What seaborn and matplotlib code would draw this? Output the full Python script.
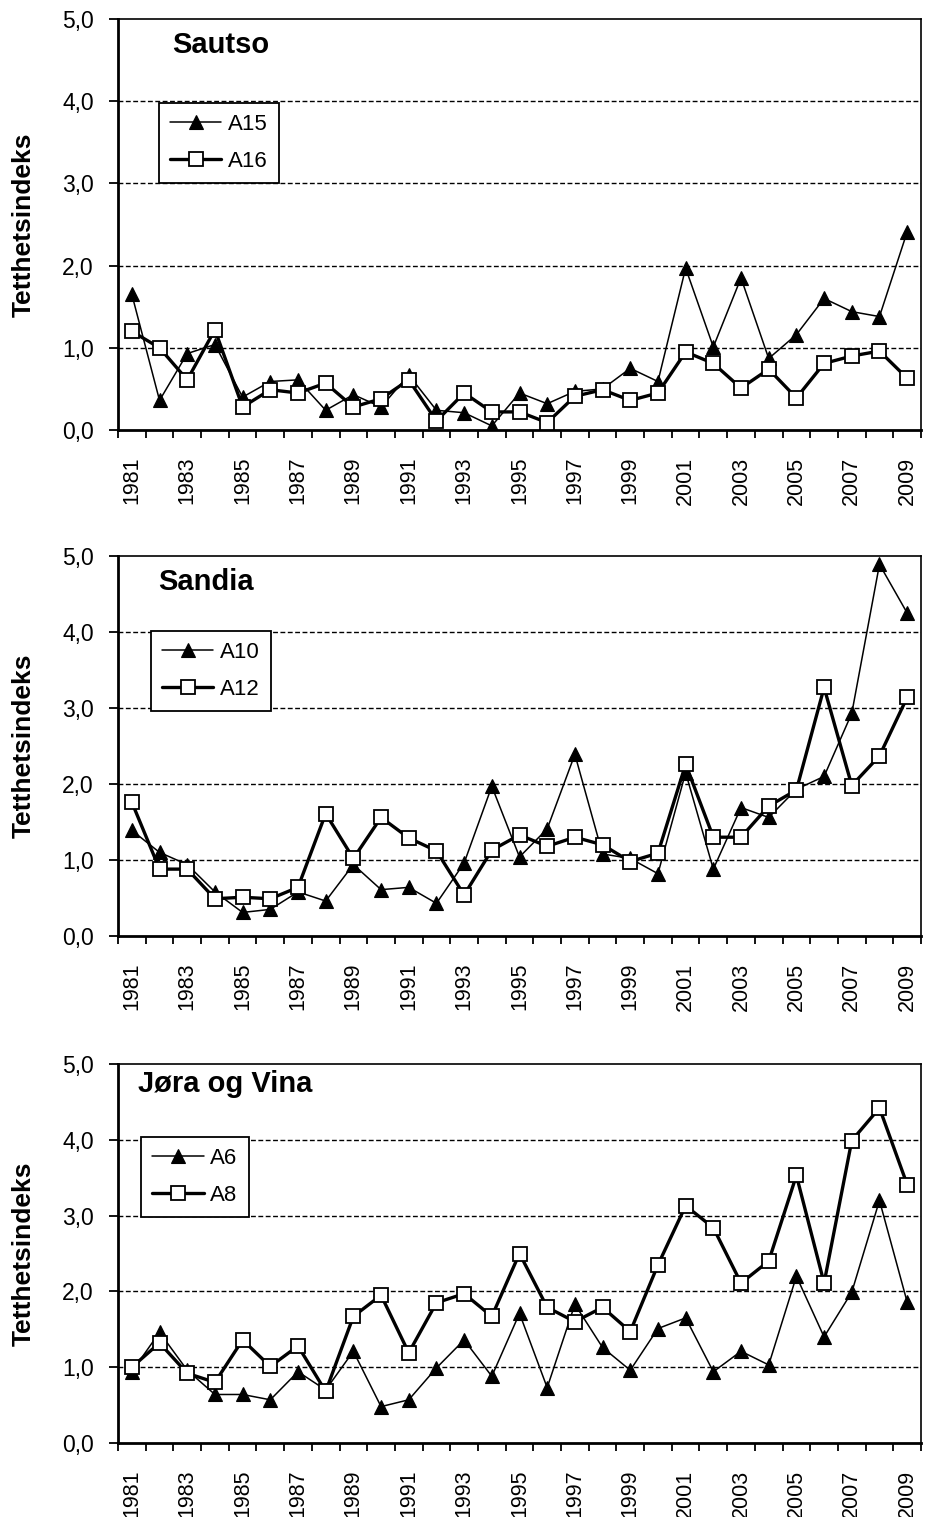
import numpy as np
import pandas as pd
import matplotlib
matplotlib.use("Agg")
import matplotlib.pyplot as plt
import seaborn as sns

years = list(range(1981, 2010))

# Sautso
a15 = [1.65, 0.36, 0.93, 1.04, 0.40, 0.59, 0.61, 0.24, 0.43, 0.28, 0.67, 0.24, 0.21, 0.05,
       0.45, 0.32, 0.47, 0.50, 0.75, 0.59, 1.97, 1.01, 1.85, 0.87, 1.16, 1.60, 1.44, 1.38, 2.41]
a16 = [1.20, 1.00, 0.61, 1.22, 0.28, 0.49, 0.45, 0.57, 0.28, 0.38, 0.61, 0.11, 0.45, 0.22,
       0.22, 0.09, 0.41, 0.49, 0.36, 0.45, 0.95, 0.81, 0.51, 0.74, 0.39, 0.81, 0.90, 0.96, 0.63]
# Sandia
a10 = [1.39, 1.10, 0.94, 0.58, 0.31, 0.35, 0.58, 0.46, 0.94, 0.61, 0.64, 0.43, 0.96, 1.97,
       1.04, 1.41, 2.39, 1.08, 1.02, 0.82, 2.15, 0.88, 1.69, 1.56, 1.93, 2.10, 2.93, 4.89, 4.25]
a12 = [1.76, 0.88, 0.88, 0.49, 0.51, 0.49, 0.64, 1.61, 1.02, 1.56, 1.29, 1.12, 0.54, 1.13,
       1.33, 1.18, 1.30, 1.20, 0.98, 1.09, 2.26, 1.30, 1.30, 1.71, 1.92, 3.27, 1.98, 2.37, 3.14]
# Jøra og Vina
a6 = [0.94, 1.46, 0.96, 0.64, 0.64, 0.57, 0.94, 0.70, 1.21, 0.48, 0.57, 0.99, 1.36, 0.88,
      1.71, 0.73, 1.83, 1.26, 0.96, 1.51, 1.65, 0.94, 1.21, 1.03, 2.20, 1.40, 1.99, 3.20, 1.86]
a8 = [1.00, 1.32, 0.92, 0.80, 1.36, 1.01, 1.28, 0.68, 1.67, 1.95, 1.19, 1.85, 1.97, 1.67,
      2.50, 1.79, 1.60, 1.79, 1.47, 2.35, 3.13, 2.84, 2.11, 2.40, 3.53, 2.11, 3.99, 4.42, 3.41]

panels = [
    ("Sautso", "A15", a15, "A16", a16),
    ("Sandia", "A10", a10, "A12", a12),
    ("Jøra og Vina", "A6", a6, "A8", a8),
]
y_ticks = [0, 1, 2, 3, 4, 5]
y_tick_labels = ["0,0", "1,0", "2,0", "3,0", "4,0", "5,0"]

sns.set_theme(style="white")
plt.rcParams["font.family"] = ["Liberation Sans", "DejaVu Sans"]

W, H = 926, 1517
fig = plt.figure(figsize=(W / 100, H / 100), dpi=100)

# axes boxes in pixels: (top, bottom)
boxes = [(19, 430), (556, 936), (1064, 1443)]
left_px, right_px = 118, 921
legend_anchor = [(0.051, 0.796), (0.041, 0.803), (0.029, 0.807)]
title_pos = [(0.068, 0.917), (0.050, 0.911), (0.025, 0.926)]

for i, (title, n1, v1, n2, v2) in enumerate(panels):
    top, bot = boxes[i]
    ax = fig.add_axes([left_px / W, (H - bot) / H, (right_px - left_px) / W, (bot - top) / H])
    df = pd.DataFrame({"year": years, n1: v1, n2: v2})

    for y in [1, 2, 3, 4]:
        ax.axhline(y, color="black", lw=1.0, ls=(0, (3.5, 1.8)), zorder=1)

    sns.lineplot(data=df, x="year", y=n1, ax=ax, color="black", lw=1.1,
                 marker="^", markersize=10.5, markerfacecolor="black",
                 markeredgecolor="black", markeredgewidth=0.8, label=n1, zorder=3)
    sns.lineplot(data=df, x="year", y=n2, ax=ax, color="black", lw=2.4,
                 marker="s", markersize=9.5, markerfacecolor="white",
                 markeredgecolor="black", markeredgewidth=1.3, label=n2, zorder=4)

    ax.set_xlim(1980.5, 2009.5)
    ax.set_ylim(0, 5)
    ax.set_yticks(y_ticks)
    ax.set_yticklabels(y_tick_labels)
    ax.set_xticks(np.arange(1980.5, 2010.0, 1.0))
    ax.set_xticklabels([])
    odd_years = [y for y in years if y % 2 == 1]
    ax.set_xticks(odd_years, minor=True)
    ax.set_xticklabels([str(y) for y in odd_years], minor=True, rotation=90)
    ax.tick_params(axis="x", which="major", direction="out", length=6, width=1.3,
                   color="black", bottom=True)
    ax.tick_params(axis="x", which="minor", length=0, pad=19, labelsize=15.5,
                   labelcolor="black", bottom=True)
    ax.tick_params(axis="y", which="major", direction="out", length=6.5, width=1.3,
                   color="black", left=True, pad=11, labelsize=16.5, labelcolor="black")

    for s in ["left", "bottom"]:
        ax.spines[s].set_linewidth(2.0)
        ax.spines[s].set_color("black")
    for s in ["top", "right"]:
        ax.spines[s].set_linewidth(1.2)
        ax.spines[s].set_color("black")
        ax.spines[s].set_visible(True)

    ax.set_xlabel("")
    ax.set_ylabel("Tetthetsindeks", fontsize=19, fontweight="bold", color="black")
    ax.yaxis.set_label_coords(-0.103, 0.5)

    ax.text(title_pos[i][0], title_pos[i][1], title, transform=ax.transAxes,
            fontsize=21, fontweight="bold", va="baseline", ha="left", color="black")

    leg = ax.legend(loc="upper left", bbox_to_anchor=legend_anchor[i], borderaxespad=0,
                    fontsize=16, frameon=True, fancybox=False, shadow=False,
                    framealpha=1, edgecolor="black", handlelength=2.3,
                    handletextpad=0.3, labelspacing=0.7, borderpad=0.5, numpoints=1)
    leg.get_frame().set_linewidth(1.3)
    for t in leg.get_texts():
        t.set_color("black")

fig.savefig("out.png", dpi=100)
